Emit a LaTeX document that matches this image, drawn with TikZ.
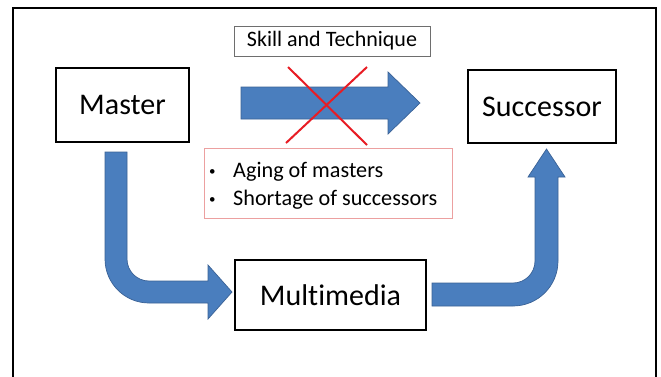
\documentclass[tikz,border=0pt]{standalone}
\usepackage{fontspec}
\setmainfont{Carlito}[Ligatures={NoCommon}]
\definecolor{blockblue}{RGB}{74,126,190}
\definecolor{blockedge}{RGB}{58,98,150}
\definecolor{crossred}{RGB}{232,28,36}
\definecolor{pinkedge}{RGB}{236,160,160}
\definecolor{grayedge}{RGB}{110,110,110}
\tikzset{
  box/.style={draw=black, line width=1.6pt, fill=white, inner sep=0pt,
    font=\fontsize{30}{36}\selectfont},
  labelbox/.style={draw=grayedge, line width=0.9pt, inner sep=0pt,
    font=\fontsize{22}{26}\selectfont},
  issuebox/.style={draw=pinkedge, line width=1pt, inner sep=0pt},
  issueline/.style={anchor=base west, inner sep=0pt, font=\fontsize{22.2}{26}\selectfont},
  blockarrow/.style={fill=blockblue, draw=blockedge, line width=0.7pt},
  cross/.style={draw=crossred, line width=2pt},
  frame/.style={draw=black, line width=2pt}
}
\begin{document}
\begin{tikzpicture}[x=1pt,y=-1pt]
\useasboundingbox (0,0) rectangle (661,376);
\fill[white] (0,0) rectangle (661,376);
% outer frame
\draw[frame] (12.5,380) -- (12.5,8) -- (655.5,8) -- (655.5,380);
% boxes
\node[box, minimum width=133pt, minimum height=74pt] (master) at (122.5,105) {Master};
\node[box, minimum width=148pt, minimum height=73pt] (successor) at (542,106.5) {Successor};
\node[box, minimum width=191pt, minimum height=70pt] (multimedia) at (330.5,295) {Multimedia};
\node[labelbox, minimum width=196pt, minimum height=30pt] (skill) at (332,41) {Skill and Technique};
\node[issuebox, minimum width=248pt, minimum height=70pt] (issues) at (328,183) {};
\node[issueline] (aging) at (209,177) {\makebox[24pt][l]{\fontsize{13}{13}\selectfont\raisebox{2pt}{•}}Aging of masters};
\node[issueline] (shortage) at (209,205) {\makebox[24pt][l]{\fontsize{13}{13}\selectfont\raisebox{2pt}{•}}Shortage of successors};
% straight block arrow (master -> successor)
\draw[blockarrow] (241,87) -- (388,87) -- (388,72) -- (420,103) -- (388,134) -- (388,119) -- (241,119) -- cycle;
% red cross
\draw[cross] (288,67) -- (367,145);
\draw[cross] (367,67) -- (286,143);
% bent block arrow master -> multimedia
\draw[blockarrow] (105,152) -- (105,259)
  .. controls (105,283.3) and (124.7,303) .. (149,303)
  -- (208,303) -- (208,319) -- (232,292) -- (208,265) -- (208,281) -- (149,281)
  .. controls (136.85,281) and (127,271.15) .. (127,259)
  -- (127,152) -- cycle;
% bent block arrow multimedia -> successor
\draw[blockarrow] (432,283) -- (513,283)
  .. controls (525.15,283) and (535,273.15) .. (535,261)
  -- (535,177) -- (528,177) -- (546.5,149) -- (565,177) -- (558,177) -- (558,261)
  .. controls (558,285.85) and (537.85,306) .. (513,306)
  -- (432,306) -- cycle;
\end{tikzpicture}
\end{document}
